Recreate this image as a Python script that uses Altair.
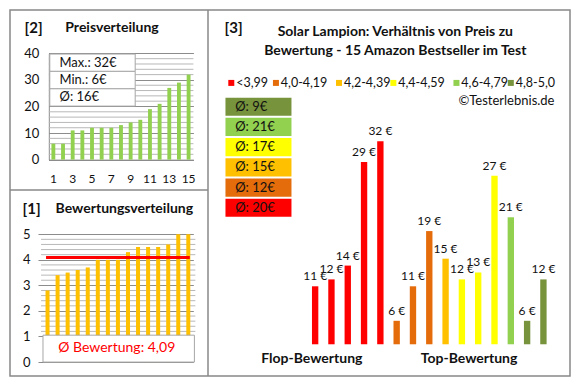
import altair as alt
import pandas as pd

# ---------------- data ----------------
prices_sorted = [6, 6, 11, 11, 12, 12, 12, 13, 14, 15, 19, 21, 27, 29, 32]
ratings_sorted = [2.8, 3.4, 3.5, 3.6, 3.7, 4.0, 4.0, 4.0, 4.3, 4.5, 4.5, 4.5, 4.6, 5.0, 5.0]
prices_by_rating = [11, 12, 14, 29, 32, 6, 11, 19, 15, 12, 13, 27, 21, 6, 12]
group_labels = ["<3,99", "4,0-4,19", "4,2-4,39", "4,4-4,59", "4,6-4,79", "4,8-5,0"]
group_lower = [4.0, 4.2, 4.4, 4.6, 4.8]
group_colors = ["#FF0000", "#E46C0A", "#FFC000", "#FFFF00", "#92D050", "#77933C"]
ranks = list(range(1, 16))
price_ticks = [0, 10, 20, 30, 40]
rating_ticks = [0, 1, 2, 3, 4, 5]
rank_labels = [1, 3, 5, 7, 9, 11, 13, 15]

# ---------------- style / layout ----------------
FONT = "Lato"
DARK = "#111111"
MAJOR = "#8c8c8c"
MINOR = "#b8b8b8"
FRAME = "#888888"
BOXLINE = "#a6a6a6"

SX = 560 / 577
SY = 366 / 386.5
WL, WR = 198, 362
W = WL + WR
H2, H1 = 180, 186
HT = H2 + H1
LEGEND_X_REF = [226, 272, 337, 393, 458, 514]   # left edge of each legend square


def lx(rx):
    return (rx - 1) * SX


def y2p(ry):
    return (ry - 1.5) * SY


def y1p(ry):
    return (ry - 191) * SY + H2


def x3p(rx):
    return (rx - 205) * SX + WL


def y3p(ry):
    return (ry - 1.5) * SY


ONE = pd.DataFrame({"k": [0]})


def txt(s, x, y, size=13, bold=False, align="left", color=DARK):
    return alt.Chart(ONE).mark_text(
        text=s, align=align, baseline="middle", font=FONT, fontSize=size,
        fontWeight="bold" if bold else "normal", color=color
    ).encode(x=alt.value(x), y=alt.value(y))


def box(x0, x1, y0, y1, fill="white", stroke=BOXLINE):
    return alt.Chart(ONE).mark_rect(fill=fill, stroke=stroke, strokeWidth=1).encode(
        x=alt.value(x0), x2=alt.value(x1), y=alt.value(y0), y2=alt.value(y1)
    )


def hline(x0, x1, y):
    return alt.Chart(ONE).mark_rule(color=FRAME, strokeWidth=1.5).encode(
        x=alt.value(x0), x2=alt.value(x1), y=alt.value(y)
    )


def vline(x, y0, y1):
    return alt.Chart(ONE).mark_rule(color=FRAME, strokeWidth=1.5).encode(
        x=alt.value(x), y=alt.value(y0), y2=alt.value(y1)
    )


# ---------------- panel [2] Preisverteilung ----------------
df2 = pd.DataFrame({"rank": ranks, "price": prices_sorted})
x2s = alt.Scale(type="band", domain=ranks, range=[lx(40.7), lx(190)],
                paddingInner=0.6, paddingOuter=0.3)
y2s = alt.Scale(domain=[0, 40], range=[y2p(159.5), y2p(47.3)], nice=False)
y2a = alt.Axis(orient="left", values=price_ticks, grid=True, gridColor=MAJOR,
               domain=True, domainColor=MAJOR, ticks=False, tickSize=0,
               labelPadding=10, offset=-lx(41), labelFont=FONT, labelFontSize=13,
               labelColor=DARK, title=None)
x2a = alt.Axis(orient="bottom", values=rank_labels, labelAngle=0, domain=True,
               domainColor=MAJOR, ticks=False, tickSize=0, labelPadding=14,
               offset=y2p(159.5) - HT, labelFont=FONT, labelFontSize=12,
               labelColor=DARK, title=None, grid=False)
minor2 = pd.DataFrame({"v": [v for v in range(2, 40, 2) if v % 10]})
p2_minor = alt.Chart(minor2).mark_rule(color=MINOR, strokeWidth=1).encode(
    y=alt.Y("v:Q", scale=y2s, axis=y2a), x=alt.value(lx(41)), x2=alt.value(lx(190))
)
p2_bars = alt.Chart(df2).mark_bar(color="#92D050").encode(
    x=alt.X("rank:O", scale=x2s, axis=x2a),
    y=alt.Y("price:Q", scale=y2s, axis=y2a),
)
mean_price = round(sum(prices_sorted) / len(prices_sorted))
rows = [48, 66.3, 84.7, 103]
row_txt = [f"Max.: {max(prices_sorted)}€", f"Min.: {min(prices_sorted)}€", f"Ø: {mean_price}€"]
p2_layers = [p2_minor, p2_bars]
for i in range(3):
    p2_layers.append(box(lx(42), lx(130), y2p(rows[i]), y2p(rows[i + 1])))
for i in range(3):
    p2_layers.append(txt(row_txt[i], lx(52), y2p((rows[i] + rows[i + 1]) / 2), 13))
p2_layers.append(txt("[2]", lx(16), y2p(20), 15, True))
p2_layers.append(txt("Preisverteilung", lx(58), y2p(20), 14, True))
p2 = alt.layer(*p2_layers)

# ---------------- panel [1] Bewertungsverteilung ----------------
df1 = pd.DataFrame({"rank": ranks, "rating": ratings_sorted})
x1s = alt.Scale(type="band", domain=ranks, range=[lx(34.5), lx(189.9)],
                paddingInner=0.6, paddingOuter=0.3)
y1s = alt.Scale(domain=[0, 5], range=[y1p(372.7), y1p(237.7)], nice=False)
y1a = alt.Axis(orient="left", values=rating_ticks, grid=True, gridColor=MAJOR,
               domain=False, ticks=True, tickSize=5, tickColor=MAJOR,
               labelPadding=8, offset=-lx(35), labelFont=FONT, labelFontSize=13,
               labelColor=DARK, title=None)
minor1 = pd.DataFrame({"v": [round(1 + 0.2 * i, 1) for i in range(1, 20) if i % 5]})
p1_minor = alt.Chart(minor1).mark_rule(color=MINOR, strokeWidth=1).encode(
    y=alt.Y("v:Q", scale=y1s, axis=y1a), x=alt.value(lx(33)), x2=alt.value(lx(192))
)
p1_bars = alt.Chart(df1).mark_bar(color="#FFC000").encode(
    x=alt.X("rank:O", scale=x1s, axis=None),
    y=alt.Y("rating:Q", scale=y1s, axis=y1a),
)
p1_mean = alt.Chart(df1).transform_joinaggregate(avg="mean(rating)").mark_line(
    color="#FF0000", strokeWidth=3, strokeCap="square"
).encode(
    x=alt.X("rank:O", scale=x1s, axis=None),
    y=alt.Y("avg:Q", scale=y1s, axis=y1a),
)
mean_rating = sum(ratings_sorted) / len(ratings_sorted)
p1 = alt.layer(
    p1_minor, p1_bars, p1_mean,
    box(lx(35), lx(191), y1p(344.3), y1p(372.7)),
    txt("Ø Bewertung: " + f"{mean_rating:.2f}".replace(".", ","), lx(111), y1p(358),
        14, False, "center", "#FF0000"),
    txt("[1]", lx(14), y1p(211), 15, True),
    txt("Bewertungsverteilung", lx(48), y1p(211), 14, True),
)

# ---------------- panel [3] Preis / Bewertung ----------------
def group_of(r):
    return group_labels[sum(r >= b for b in group_lower)]


groups = [group_of(r) for r in ratings_sorted]
df3 = pd.DataFrame({
    "pos": ranks,
    "price": prices_by_rating,
    "group": groups,
    "label": [f"{p} €" for p in prices_by_rating],
})
avg_by_group = []
for g in group_labels:
    vals = [p for p, gg in zip(prices_by_rating, groups) if gg == g]
    avg_by_group.append(round(sum(vals) / len(vals)))
dfb = pd.DataFrame({"group": group_labels,
                    "text": [f"Ø: {a}€" for a in avg_by_group]})
dfl = pd.DataFrame({"group": group_labels,
                    "sx": [x3p(v + 3) for v in LEGEND_X_REF],
                    "tx": [x3p(v + 8) for v in LEGEND_X_REF]})

x3s = alt.Scale(type="band", domain=ranks, range=[x3p(307), x3p(559)],
                paddingInner=0.61, paddingOuter=0.305)
y3s = alt.Scale(domain=[2.6, 32], range=[y3p(354.5), y3p(140.2)], nice=False, zero=False)
cscale = alt.Scale(domain=group_labels, range=group_colors)
bys = alt.Scale(type="band", domain=group_labels[::-1], range=[y3p(93), y3p(221)],
                paddingInner=0.1, paddingOuter=0.05)

p3_bars = alt.Chart(df3).mark_bar().encode(
    x=alt.X("pos:O", scale=x3s, axis=None),
    y=alt.Y("price:Q", scale=y3s, axis=None),
    y2=alt.Y2Datum(2.6),
    color=alt.Color("group:N", scale=cscale, legend=None),
)
p3_labels = alt.Chart(df3).mark_text(
    baseline="bottom", dy=-3, font=FONT, fontSize=12, color=DARK
).encode(
    x=alt.X("pos:O", scale=x3s, axis=None),
    y=alt.Y("price:Q", scale=y3s, axis=None),
    text="label:N",
)
p3_boxes = alt.Chart(dfb).mark_rect().encode(
    y=alt.Y("group:N", scale=bys, axis=None),
    x=alt.value(x3p(223)), x2=alt.value(x3p(291)),
    color=alt.Color("group:N", scale=cscale, legend=None),
)
p3_boxtext = alt.Chart(dfb).mark_text(
    align="left", baseline="middle", font=FONT, fontSize=13, color=DARK
).encode(
    y=alt.Y("group:N", scale=bys, axis=None),
    x=alt.value(x3p(233)),
    text="text:N",
)
p3_leg_sq = alt.Chart(dfl).mark_square(size=36, opacity=1).encode(
    x=alt.X("sx:Q", scale=None, axis=None),
    y=alt.value(y3p(78.5)),
    color=alt.Color("group:N", scale=cscale, legend=None),
)
p3_leg_tx = alt.Chart(dfl).mark_text(
    align="left", baseline="middle", font=FONT, fontSize=12.5, color=DARK
).encode(
    x=alt.X("tx:Q", scale=None, axis=None),
    y=alt.value(y3p(78.5)),
    text="group:N",
)
p3_bars_l = alt.layer(p3_bars, p3_labels)
p3_box_l = alt.layer(p3_boxes, p3_boxtext)
p3_leg_l = alt.layer(p3_leg_sq, p3_leg_tx)
p3 = alt.layer(
    p3_bars_l, p3_box_l, p3_leg_l,
    txt("[3]", x3p(222), y3p(21), 15, True),
    txt("Solar Lampion: Verhältnis von Preis zu", x3p(398), y3p(25), 14, True, "center"),
    txt("Bewertung - 15 Amazon Bestseller im Test", x3p(398), y3p(45), 14, True, "center"),
    txt("©Testerlebnis.de", x3p(562), y3p(98), 13, False, "right"),
    txt("Flop-Bewertung", x3p(312), y3p(370), 14, True, "center"),
    txt("Top-Bewertung", x3p(474), y3p(370), 14, True, "center"),
).resolve_scale(x="independent", y="independent")

frames = alt.layer(hline(0, WL, H2), vline(WL, 0, HT))

chart = alt.layer(p2, p1, p3, frames).resolve_scale(
    x="independent", y="independent"
).properties(
    width=W, height=HT,
    padding={"left": 1, "top": 1, "right": 1, "bottom": 1}, background="white"
).configure_view(stroke=FRAME, strokeWidth=1.5)

chart.save("out.html", embed_options={"renderer": "svg", "actions": False})
